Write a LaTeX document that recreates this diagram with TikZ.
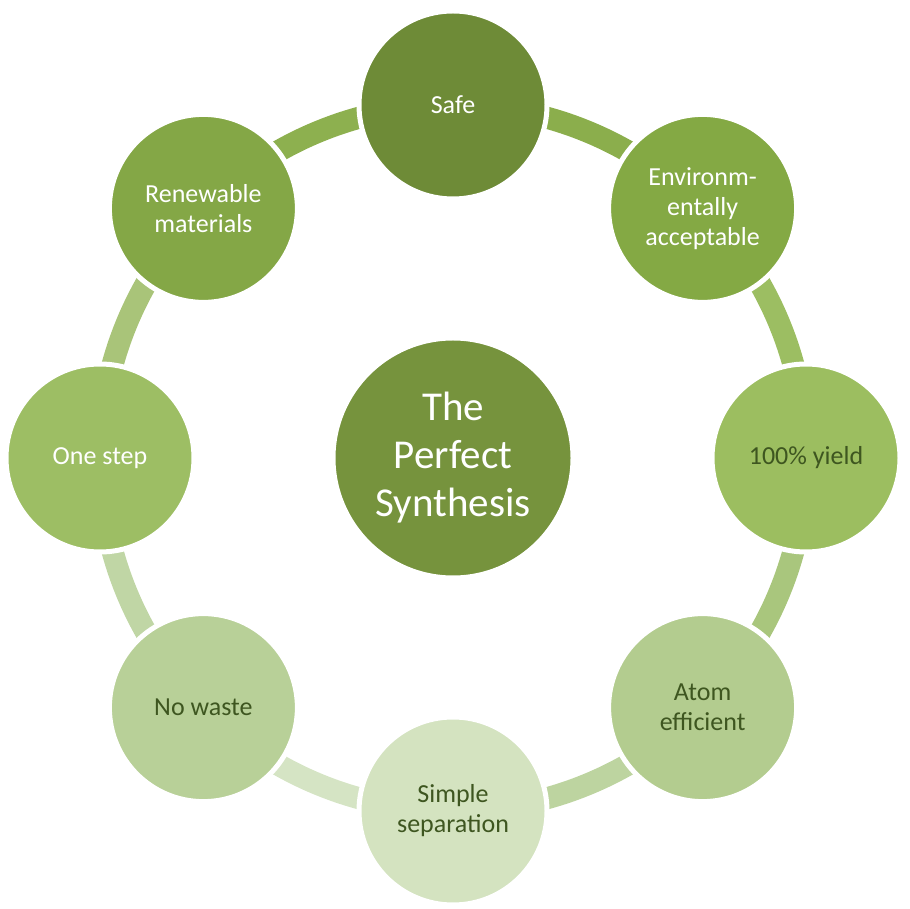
\documentclass[tikz,border=0pt]{standalone}
\usepackage{fontspec}
\setmainfont{Carlito}
\definecolor{cCenter}{HTML}{76933D}
\definecolor{cSafe}{HTML}{6E8B37}
\definecolor{cEnv}{HTML}{84A944}
\definecolor{cYield}{HTML}{9CBE60}
\definecolor{cAtom}{HTML}{B3CC8F}
\definecolor{cSimple}{HTML}{D4E3C0}
\definecolor{cWaste}{HTML}{B8D098}
\definecolor{cOne}{HTML}{9DBE64}
\definecolor{cRenew}{HTML}{84A746}
\definecolor{kRS}{HTML}{8DB04F}
\definecolor{kSE}{HTML}{8BAE4C}
\definecolor{kEY}{HTML}{9CBE62}
\definecolor{kYA}{HTML}{A9C67D}
\definecolor{kAS}{HTML}{BDD4A0}
\definecolor{kSW}{HTML}{D5E4C4}
\definecolor{kWO}{HTML}{C0D6A5}
\definecolor{kOR}{HTML}{A9C479}
\definecolor{darktext}{HTML}{3E5620}
\begin{document}
\begin{tikzpicture}[x=1pt,y=1pt,
  outer/.style={circle, minimum size=188pt, inner sep=0pt, align=center,
    draw=white, line width=5pt, font=\fontsize{26}{30}\selectfont},
  centre/.style={circle, minimum size=240pt, inner sep=0pt, align=center,
    draw=white, line width=5pt, fill=cCenter, text=white,
    font=\fontsize{41}{48}\selectfont},
  conn/.style={line width=22pt}]
\useasboundingbox (0,0) rectangle (910,908);
\coordinate (O) at (453,450);
% connectors (ring arcs), drawn first
\coordinate (pS) at ([shift={(90:353)}]O);
\coordinate (pE) at ([shift={(45:353)}]O);
\coordinate (pY) at ([shift={(0:353)}]O);
\coordinate (pA) at ([shift={(-45:353)}]O);
\coordinate (pM) at ([shift={(-90:353)}]O);
\coordinate (pW) at ([shift={(-135:353)}]O);
\coordinate (pO) at ([shift={(180:353)}]O);
\coordinate (pR) at ([shift={(135:353)}]O);
\draw[conn, kRS] (pR) arc[start angle=135, end angle=90, radius=353];
\draw[conn, kSE] (pS) arc[start angle=90, end angle=45, radius=353];
\draw[conn, kEY] (pE) arc[start angle=45, end angle=0, radius=353];
\draw[conn, kYA] (pY) arc[start angle=0, end angle=-45, radius=353];
\draw[conn, kAS] (pA) arc[start angle=-45, end angle=-90, radius=353];
\draw[conn, kSW] (pM) arc[start angle=-90, end angle=-135, radius=353];
\draw[conn, kWO] (pW) arc[start angle=-135, end angle=-180, radius=353];
\draw[conn, kOR] (pO) arc[start angle=180, end angle=135, radius=353];
% circles
\node[outer, fill=cSafe, text=white] (safe) at (pS) {Safe};
\node[outer, fill=cEnv, text=white] (env) at (pE) {Environm-\\entally\\acceptable};
\node[outer, fill=cYield, text=darktext] (yield) at (pY) {100\% yield};
\node[outer, fill=cAtom, text=darktext] (atom) at (pA) {Atom\\efficient};
\node[outer, fill=cSimple, text=darktext] (simple) at (pM) {Simple\\separation};
\node[outer, fill=cWaste, text=darktext] (waste) at (pW) {No waste};
\node[outer, fill=cOne, text=white] (one) at (pO) {One step};
\node[outer, fill=cRenew, text=white] (renew) at (pR) {Renewable\\materials};
\node[centre] (center) at (O) {The\\Perfect\\Synthesis};
\end{tikzpicture}
\end{document}
